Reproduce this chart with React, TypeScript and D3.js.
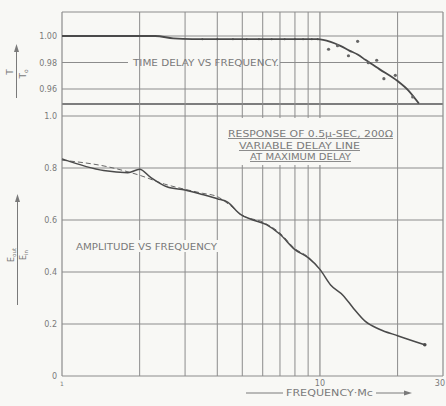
import React from "react";
import * as d3 from "d3";

// ---- data ----
const gridFreqs = [2, 3, 4, 5, 6, 7, 8, 9, 10, 20];
const xTickVals = [1, 10, 30];
const xTickLabels = ["1", "10", "30"];
const topTickVals = [1.0, 0.98, 0.96];
const topTickLabels = ["1.00", "0.98", "0.96"];
const botTickVals = [1.0, 0.8, 0.6, 0.4, 0.2, 0];
const botTickLabels = ["1.0", "0.8", "0.6", "0.4", "0.2", "0"];

const delayFreq = [1, 2.3, 2.7, 3.2, 5, 7, 9.8, 11, 12, 13, 14, 15, 17, 20, 22, 24.2];
const delayVal = [1.0, 1.0, 0.9982, 0.9976, 0.9976, 0.9976, 0.9976, 0.9955, 0.9925, 0.989, 0.986, 0.982, 0.975, 0.966, 0.959, 0.949];
const delayDotFreq = [3.5, 4, 4.6, 5.2, 5.8, 6.5, 7.3, 8, 8.6, 9.3, 9.8];
const delayDotVal = [0.9976, 0.9976, 0.9976, 0.9976, 0.9976, 0.9976, 0.9976, 0.9976, 0.9976, 0.9976, 0.9976];
const scatterFreq = [10.8, 11.7, 12.9, 14.0, 15.4, 16.6, 17.7, 19.6, 22.9];
const scatterVal = [0.99, 0.9927, 0.9851, 0.996, 0.9798, 0.9817, 0.9678, 0.9703, 0.954];

const ampFreq = [1, 1.45, 1.8, 2.0, 2.2, 2.55, 3.0, 3.5, 4.0, 4.4, 4.9, 5.5, 6.2, 7.0, 8.0, 9.0, 10, 11, 12.3, 13.5, 15, 17, 20, 25.5];
const ampVal = [0.835, 0.79, 0.782, 0.795, 0.765, 0.728, 0.715, 0.698, 0.682, 0.668, 0.623, 0.6, 0.582, 0.545, 0.486, 0.455, 0.41, 0.35, 0.31, 0.26, 0.21, 0.18, 0.155, 0.12];
const ampDashFreq = [1, 1.5, 2.0, 2.5, 3.0, 3.5, 4.0, 4.5, 5, 6, 7, 8, 9, 10];
const ampDashVal = [0.83, 0.805, 0.772, 0.738, 0.718, 0.703, 0.69, 0.655, 0.618, 0.592, 0.55, 0.49, 0.458, 0.41];

// ---- layout ----
const W = 446, H = 406;
const left = 62, right = 443, top = 12, bottom = 376;
const sepY = 104;
const BG = "#f8f8f5";
const GRID = "#8c8c8c";
const INK = "#4a4a4a";
const TXT = "#7a7a7a";
const FONT = "'DejaVu Sans', sans-serif";

export default function App() {
  const x = d3.scaleLog().domain([1, 30]).range([left, right]);
  const yT = d3.scaleLinear().domain([0.96, 1.0]).range([89, 36]);
  const yB = d3.scaleLinear().domain([0, 1.0]).range([bottom, 116]);

  const delayPts: [number, number][] = delayFreq.map((f, i) => [x(f), yT(delayVal[i])]);
  const ampPts: [number, number][] = ampFreq.map((f, i) => [x(f), yB(ampVal[i])]);
  const dashPts: [number, number][] = ampDashFreq.map((f, i) => [x(f), yB(ampDashVal[i])]);
  const line = d3.line().curve(d3.curveMonotoneX);

  const y98 = yT(0.98);

  return (
    <svg width={W} height={H} style={{ position: "absolute", left: 0, top: 0, background: BG }} fontFamily={FONT}>
      <rect x={0} y={0} width={W} height={H} fill={BG} />
      {/* horizontal grid top */}
      <line x1={left} x2={right} y1={top} y2={top} stroke={GRID} strokeWidth={1} />
      {topTickVals.map((v, i) =>
        v === 0.98 ? (
          <g key={"th" + i}>
            <line x1={left} x2={128} y1={y98} y2={y98} stroke={GRID} />
            <line x1={280} x2={right} y1={y98} y2={y98} stroke={GRID} />
          </g>
        ) : (
          <line key={"th" + i} x1={left} x2={right} y1={yT(v)} y2={yT(v)} stroke={GRID} />
        )
      )}
      <line x1={left} x2={right} y1={sepY} y2={sepY} stroke="#555" strokeWidth={1.6} />
      {botTickVals.map((v, i) => (
        <line key={"bh" + i} x1={left} x2={right} y1={yB(v)} y2={yB(v)} stroke={GRID} />
      ))}
      {/* vertical grid */}
      <line x1={left} x2={left} y1={top} y2={bottom} stroke={GRID} strokeWidth={1.2} />
      <line x1={right} x2={right} y1={top} y2={bottom} stroke={GRID} strokeWidth={1.2} />
      {gridFreqs.map((f) => (
        <line key={"v" + f} x1={x(f)} x2={x(f)} y1={top} y2={bottom} stroke={GRID} strokeWidth={f === 10 ? 1.2 : 1} />
      ))}

      {/* title block background */}
      <rect x={224} y={118} width={171} height={47} fill={BG} />
      <rect x={73} y={240} width={146} height={12} fill={BG} />

      {/* time delay */}
      <path d={line(delayPts) || ""} fill="none" stroke={INK} strokeWidth={1.8} />
      {delayDotFreq.map((f, i) => (
        <circle key={"dd" + i} cx={x(f)} cy={yT(delayDotVal[i])} r={1} fill={INK} />
      ))}
      {scatterFreq.map((f, i) => (
        <circle key={"sc" + i} cx={x(f)} cy={yT(scatterVal[i])} r={1.6} fill="#666" />
      ))}

      {/* amplitude */}
      <path d={line(dashPts) || ""} fill="none" stroke="#666" strokeWidth={1} strokeDasharray="5,3" />
      <path d={line(ampPts) || ""} fill="none" stroke={INK} strokeWidth={1.5} />
      <circle cx={x(ampFreq[ampFreq.length - 1])} cy={yB(ampVal[ampVal.length - 1])} r={1.8} fill={INK} />

      {/* y tick labels */}
      {topTickVals.map((v, i) => (
        <text key={"tl" + i} x={57} y={yT(v) + 3} fontSize={8} fill={TXT} textAnchor="end">{topTickLabels[i]}</text>
      ))}
      {botTickVals.map((v, i) => (
        <text key={"bl" + i} x={57} y={yB(v) + 3} fontSize={8} fill={TXT} textAnchor="end">{botTickLabels[i]}</text>
      ))}
      {/* x tick labels */}
      {xTickVals.map((v, i) => (
        <text key={"xl" + i} x={i === 2 ? 445 : x(v)} y={386} fontSize={i === 0 ? 6 : 8} fill={TXT} textAnchor={i === 2 ? "end" : "middle"}>{xTickLabels[i]}</text>
      ))}

      {/* annotations */}
      <text x={133} y={65.5} fontSize={8.5} fill={TXT} textLength={146} lengthAdjust="spacingAndGlyphs">TIME DELAY  VS  FREQUENCY.</text>
      <text x={76} y={250} fontSize={8.5} fill={TXT} textLength={141} lengthAdjust="spacingAndGlyphs">AMPLITUDE  VS  FREQUENCY</text>
      <text x={228} y={137} fontSize={8.5} fill={TXT} textLength={165} lengthAdjust="spacingAndGlyphs" textDecoration="underline">RESPONSE OF 0.5μ-SEC, 200Ω</text>
      <text x={239} y={149} fontSize={8.5} fill={TXT} textLength={121} lengthAdjust="spacingAndGlyphs" textDecoration="underline">VARIABLE  DELAY  LINE</text>
      <text x={250} y={160} fontSize={8.5} fill={TXT} textLength={101} lengthAdjust="spacingAndGlyphs" textDecoration="underline">AT MAXIMUM DELAY</text>

      {/* x axis title */}
      <line x1={246} x2={283} y1={393} y2={393} stroke={TXT} />
      <text x={286} y={396} fontSize={8} fill={TXT} textLength={87} lengthAdjust="spacingAndGlyphs">FREQUENCY·Mc</text>
      <line x1={376} x2={406} y1={393} y2={393} stroke={TXT} />
      <path d="M404,390.5 L412,393 L404,395.5 Z" fill={TXT} />

      {/* y axis titles */}
      <line x1={16.5} x2={16.5} y1={49} y2={98} stroke={TXT} />
      <path d="M14,52 L16.5,44 L19,52 Z" fill={TXT} />
      <text transform="translate(13,72) rotate(-90)" fontSize={9} fill={TXT} textAnchor="middle">T</text>
      <text transform="translate(26,74) rotate(-90)" fontSize={9} fill={TXT} textAnchor="middle">T<tspan fontSize={6} dy={2}>o</tspan></text>

      <line x1={17.5} x2={17.5} y1={199} y2={305} stroke={TXT} />
      <path d="M15,202 L17.5,194 L20,202 Z" fill={TXT} />
      <text transform="translate(14,255) rotate(-90)" fontSize={8} fill={TXT} textAnchor="middle">E<tspan fontSize={5.5} dy={2}>out</tspan></text>
      <text transform="translate(26,255) rotate(-90)" fontSize={8} fill={TXT} textAnchor="middle">E<tspan fontSize={5.5} dy={2}>in</tspan></text>
    </svg>
  );
}
